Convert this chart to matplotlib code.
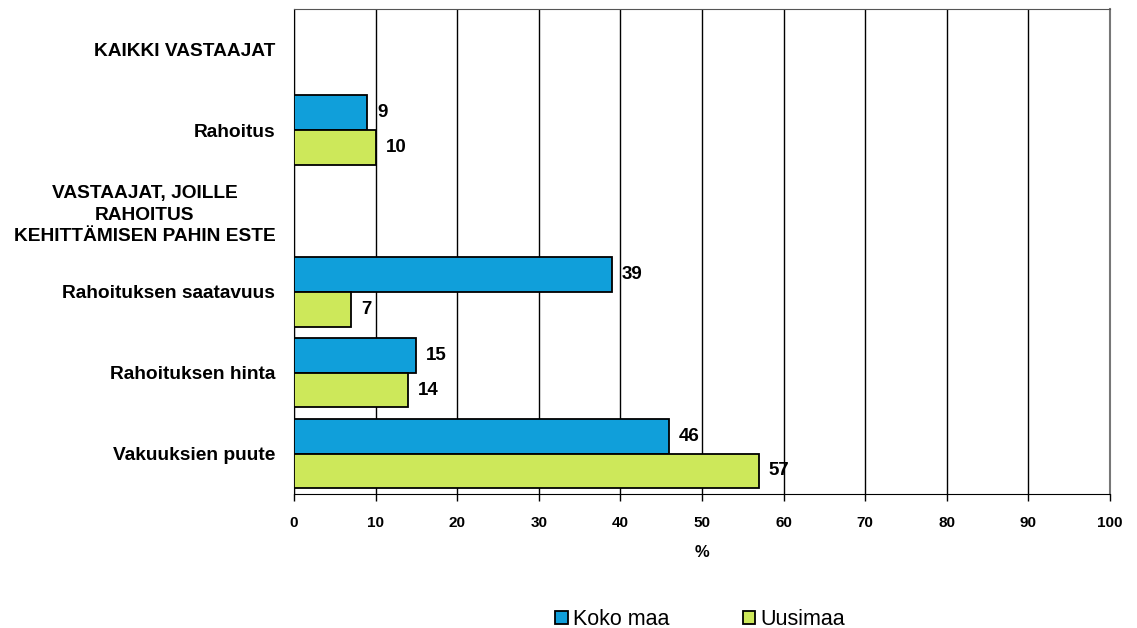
import numpy as np
import matplotlib.pyplot as plt

plt.rcParams['font.family'] = ['Liberation Sans', 'DejaVu Sans']

categories = ["KAIKKI VASTAAJAT", "Rahoitus",
              "VASTAAJAT, JOILLE\nRAHOITUS\nKEHITTÄMISEN PAHIN ESTE",
              "Rahoituksen saatavuus", "Rahoituksen hinta", "Vakuuksien puute"]
koko_maa = [None, 9, None, 39, 15, 46]
uusimaa = [None, 10, None, 7, 14, 57]
series_names = ["Koko maa", "Uusimaa"]
colors = ["#109FDA", "#CDE85A"]

fig = plt.figure(figsize=(11.37, 6.28), dpi=100)
ax = fig.add_axes([0.2586, 0.2134, 0.7177, 0.7723])

y = np.arange(len(categories))
h = 0.43
for vals, off, col, name in [(koko_maa, -h / 2, colors[0], series_names[0]),
                             (uusimaa, h / 2, colors[1], series_names[1])]:
    idx = [i for i, v in enumerate(vals) if v is not None]
    v = [vals[i] for i in idx]
    ax.barh(y[idx] + off, v, height=h, color=col, edgecolor="black",
            linewidth=1.3, label=name, zorder=3)
    for yi, vi in zip(y[idx] + off, v):
        ax.text(vi + 1.2, yi, str(vi), va="center", ha="left",
                fontsize=13.5, fontweight="bold", zorder=4)

ax.set_xlim(0, 100)
ax.set_ylim(len(categories) - 0.5, -0.5)
ax.set_xticks(np.arange(0, 101, 10))
ax.set_yticks(y)
ax.set_yticklabels(categories, fontsize=13.8, fontweight="bold",
                   multialignment="center")
for lbl in ax.get_yticklabels():
    lbl.set_linespacing(1.35)
ax.tick_params(axis="y", length=0, pad=13.5)
ax.tick_params(axis="x", direction="out", length=5, width=1, pad=11, labelsize=11)
for lbl in ax.get_xticklabels():
    lbl.set_fontweight("bold")

ax.grid(axis="x", color="black", linewidth=1, zorder=0)
ax.spines["left"].set_color("black")
ax.spines["bottom"].set_color("black")
ax.spines["top"].set_color("#555555")
ax.spines["right"].set_color("#777777")
ax.spines["right"].set_linewidth(1.5)

ax.set_xlabel("%", fontsize=12, fontweight="bold", labelpad=11)

leg = fig.legend(loc="lower center", bbox_to_anchor=(0.6157, -0.034), ncol=2,
                 frameon=False, fontsize=15.5, handlelength=0.6, handleheight=0.6,
                 handletextpad=0.25, columnspacing=3.4)

fig.savefig("out.png", dpi=100)
